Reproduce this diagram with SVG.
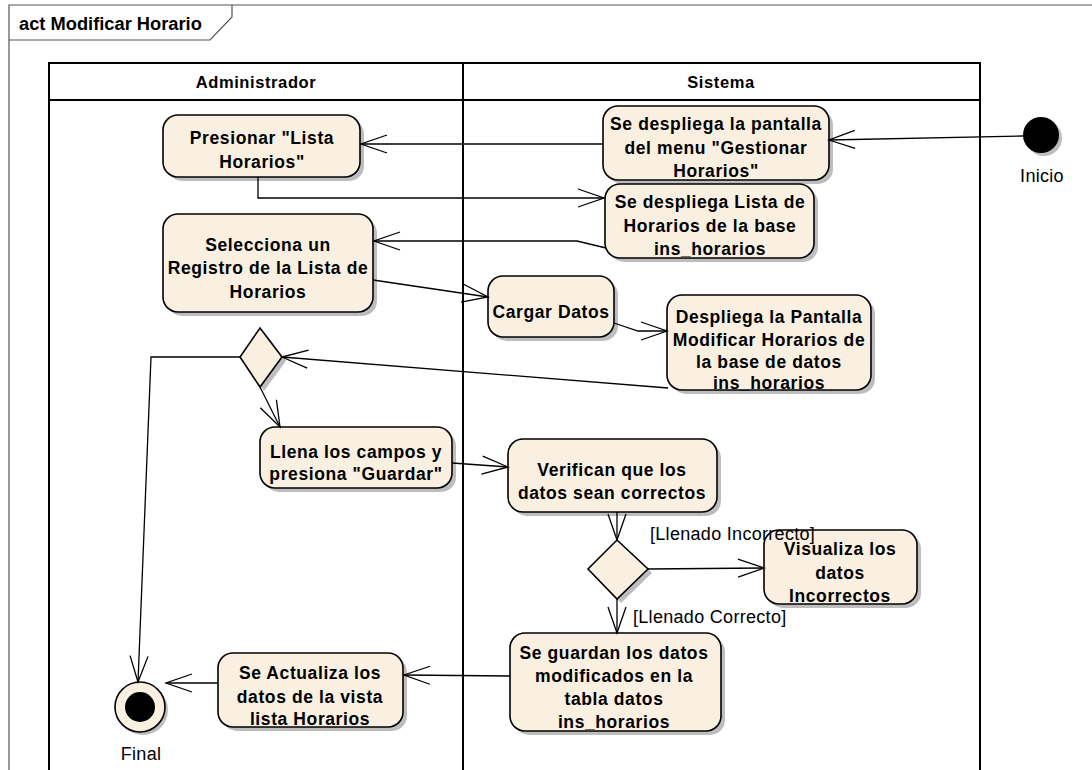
<svg xmlns="http://www.w3.org/2000/svg" width="1092" height="770" viewBox="0 0 1092 770">
<defs>
<style>
.frame{fill:none;stroke:#555;stroke-width:1.2}
.lane{fill:none;stroke:#000;stroke-width:2}
.node{fill:#F9F0E2;stroke:#000;stroke-width:1.6}
.shadow{fill:#BDBDBD;stroke:none}
.t{font-family:"Liberation Sans",Arial,sans-serif;font-weight:bold;font-size:17.5px;letter-spacing:0.6px;fill:#000;text-anchor:middle}
.h{font-family:"Liberation Sans",Arial,sans-serif;font-weight:bold;font-size:16.5px;letter-spacing:0.6px;fill:#000;text-anchor:middle}
.lbl{font-family:"Liberation Sans",Arial,sans-serif;font-size:18px;letter-spacing:0.3px;fill:#000}
.conn path{fill:none;stroke:#000;stroke-width:1.3}
</style>
<marker id="arr" markerUnits="userSpaceOnUse" markerWidth="32" markerHeight="24" viewBox="-30 -12 32 24" refX="0" refY="0" orient="auto">
<path d="M-26,-9 L0,0 L-26,9" fill="none" stroke="#000" stroke-width="1.3"/>
</marker>
</defs>
<rect width="1092" height="770" fill="#fff"/>
<g id="frame">
<path class="frame" d="M9,770 L9,5 L1092,5"/>
<path class="frame" d="M9,40 L210,40 L232,17 L232,5"/>
<text x="19" y="30" style="font-family:'Liberation Sans',Arial,sans-serif;font-weight:bold;font-size:18.3px">act Modificar Horario</text>
</g>
<g id="lanes">
<path class="lane" d="M49,770 L49,63 L980,63 L980,770"/>
<path class="lane" d="M49,100 L980,100"/>
<path class="lane" d="M463,63 L463,770"/>
<text class="h" x="256" y="88">Administrador</text>
<text class="h" x="721" y="88">Sistema</text>
</g>
<g id="n_inicio">
<circle class="shadow" cx="1044" cy="138" r="18"/>
<circle cx="1041" cy="135" r="18" fill="#000"/>
<text class="lbl" x="1042" y="182" text-anchor="middle" letter-spacing="0.8">Inicio</text>
</g>
<g id="n_pantalla">
<rect class="shadow" x="607" y="110" width="226" height="74" rx="15"/>
<rect class="node" x="603" y="106" width="226" height="74" rx="15"/>
<text class="t" x="716" y="130">Se despliega la pantalla</text>
<text class="t" x="716" y="154">del menu "Gestionar</text>
<text class="t" x="716" y="177">Horarios"</text>
</g>
<g id="n_presionar">
<rect class="shadow" x="167" y="119" width="197" height="62" rx="15"/>
<rect class="node" x="163" y="115" width="197" height="62" rx="15"/>
<text class="t" x="262" y="144">Presionar "Lista</text>
<text class="t" x="262" y="168">Horarios"</text>
</g>
<g id="n_lista">
<rect class="shadow" x="609" y="188" width="209" height="74" rx="15"/>
<rect class="node" x="605" y="184" width="209" height="74" rx="15"/>
<text class="t" x="710" y="208">Se despliega Lista de</text>
<text class="t" x="710" y="232">Horarios de la base</text>
<text class="t" x="710" y="255">ins_horarios</text>
</g>
<g id="n_selecciona">
<rect class="shadow" x="167" y="218" width="210" height="98" rx="15"/>
<rect class="node" x="163" y="214" width="210" height="98" rx="15"/>
<text class="t" x="268" y="251">Selecciona un</text>
<text class="t" x="268" y="274">Registro de la Lista de</text>
<text class="t" x="268" y="298">Horarios</text>
</g>
<g id="n_cargar">
<rect class="shadow" x="492" y="280" width="126" height="61" rx="15"/>
<rect class="node" x="488" y="276" width="126" height="61" rx="15"/>
<text class="t" x="551" y="318">Cargar Datos</text>
</g>
<g id="n_despliega">
<rect class="shadow" x="671" y="299" width="204" height="95" rx="15"/>
<rect class="node" x="667" y="295" width="204" height="95" rx="15"/>
<text class="t" x="769" y="323">Despliega la Pantalla</text>
<text class="t" x="769" y="346">Modificar Horarios de</text>
<text class="t" x="769" y="368">la base de datos</text>
<text class="t" x="769" y="389">ins_horarios</text>
</g>
<g id="n_decision1">
<polygon class="shadow" points="264,332 286,361 264,391 244,361"/>
<polygon class="node" points="260,328 282,357 260,387 240,357"/>
</g>
<g id="n_llena">
<rect class="shadow" x="264" y="431" width="192" height="61" rx="15"/>
<rect class="node" x="260" y="427" width="192" height="61" rx="15"/>
<text class="t" x="356" y="458">Llena los campos y</text>
<text class="t" x="356" y="480">presiona "Guardar"</text>
</g>
<g id="n_verifican">
<rect class="shadow" x="512" y="443" width="209" height="73" rx="15"/>
<rect class="node" x="508" y="439" width="209" height="73" rx="15"/>
<text class="t" x="612" y="476">Verifican que los</text>
<text class="t" x="612" y="499">datos sean correctos</text>
</g>
<g id="n_decision2">
<polygon class="shadow" points="621,544 652,573 621,603 592,573"/>
<polygon class="node" points="617,540 648,569 617,599 588,569"/>
</g>
<g id="n_visualiza">
<rect class="shadow" x="768" y="534" width="153" height="74" rx="15"/>
<rect class="node" x="764" y="530" width="153" height="74" rx="15"/>
<text class="t" x="840" y="555">Visualiza los</text>
<text class="t" x="840" y="579">datos</text>
<text class="t" x="840" y="602">Incorrectos</text>
</g>
<g id="n_guardan">
<rect class="shadow" x="514" y="637" width="211" height="98" rx="15"/>
<rect class="node" x="510" y="633" width="211" height="98" rx="15"/>
<text class="t" x="614" y="659">Se guardan los datos</text>
<text class="t" x="614" y="682">modificados en la</text>
<text class="t" x="614" y="705">tabla datos</text>
<text class="t" x="614" y="728">ins_horarios</text>
</g>
<g id="n_actualiza">
<rect class="shadow" x="222" y="657" width="185" height="74" rx="15"/>
<rect class="node" x="218" y="653" width="185" height="74" rx="15"/>
<text class="t" x="310" y="679">Se Actualiza los</text>
<text class="t" x="310" y="703">datos de la vista</text>
<text class="t" x="310" y="725">lista Horarios</text>
</g>
<g id="n_final">
<circle class="shadow" cx="143" cy="710" r="25"/>
<circle class="node" cx="140" cy="707" r="25"/>
<circle cx="140" cy="707" r="15" fill="#000"/>
<text class="lbl" x="141" y="760" text-anchor="middle">Final</text>
</g>
<g class="conn" id="connectors">
<path d="M1023,136 L829,140" marker-end="url(#arr)"/>
<path d="M603,144 L361,144" marker-end="url(#arr)"/>
<path d="M258,177 L258,198 L604,198" marker-end="url(#arr)"/>
<path d="M606,248 L577,241 L374,241" marker-end="url(#arr)"/>
<path d="M373,280 L488,297" marker-end="url(#arr)"/>
<path d="M614,323 L638,331 L667,331" marker-end="url(#arr)"/>
<path d="M668,388 L282,357" marker-end="url(#arr)"/>
<path d="M260,387 L280,427" marker-end="url(#arr)"/>
<path d="M240,357 L151,357 L138,682" marker-end="url(#arr)"/>
<path d="M452,463 L508,467" marker-end="url(#arr)"/>
<path d="M617,512 L617,540" marker-end="url(#arr)"/>
<path d="M648,569 L764,568" marker-end="url(#arr)"/>
<path d="M617,599 L617,633" marker-end="url(#arr)"/>
<path d="M510,676 L404,675" marker-end="url(#arr)"/>
<path d="M218,683 L166,683" marker-end="url(#arr)"/>
<text class="lbl" x="650" y="540">[Llenado Incorrecto]</text>
<text class="lbl" x="633" y="623">[Llenado Correcto]</text>
</g>
</svg>
